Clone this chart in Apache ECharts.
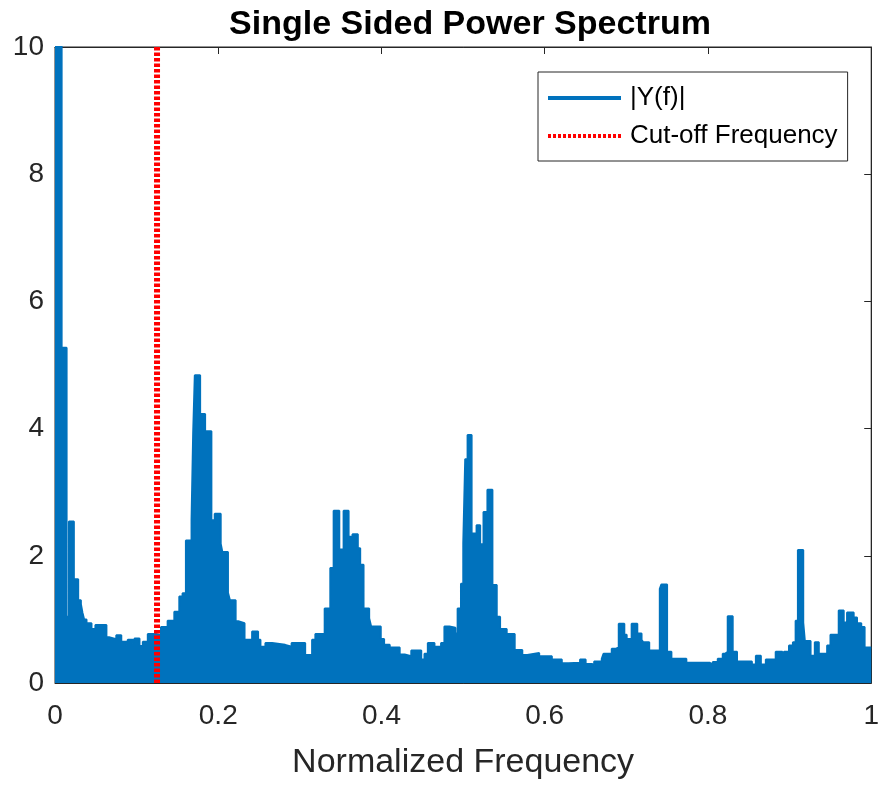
<!DOCTYPE html>
<html>
<head>
<meta charset="utf-8">
<script src="https://cdn.jsdelivr.net/npm/echarts@6/dist/echarts.min.js"></script>
<style>
html,body{margin:0;padding:0;background:#fff;overflow:hidden;}
#chart{position:fixed;left:0;top:0;right:0;bottom:0;}
</style>
</head>
<body>
<div id="chart"></div>
<script>
// Step-wise upper envelope of the single sided spectrum |Y(f)|
const freq = [
  0.0000, 0.0081, 0.0142, 0.0171, 0.0231, 0.0284, 0.0317, 0.0337, 0.0357, 0.0386,
  0.0447, 0.0495, 0.0630, 0.0662, 0.0751, 0.0812, 0.0873, 0.0893, 0.0954, 0.0975,
  0.1035, 0.1076, 0.1137, 0.1238, 0.1299, 0.1380, 0.1462, 0.1523, 0.1563, 0.1604,
  0.1673, 0.1693, 0.1713, 0.1778, 0.1839, 0.1916, 0.1957, 0.2030, 0.2050, 0.2119,
  0.2143, 0.2213, 0.2245, 0.2322, 0.2415, 0.2488, 0.2517, 0.2578, 0.2660, 0.2820,
  0.2899, 0.3065, 0.3150, 0.3190, 0.3304, 0.3373, 0.3414, 0.3483, 0.3536, 0.3597,
  0.3645, 0.3710, 0.3739, 0.3780, 0.3849, 0.3873, 0.3991, 0.4032, 0.4101, 0.4223,
  0.4284, 0.4365, 0.4487, 0.4527, 0.4568, 0.4649, 0.4730, 0.4771, 0.4832, 0.4905,
  0.4933, 0.4974, 0.5002, 0.5026, 0.5055, 0.5104, 0.5165, 0.5209, 0.5250, 0.5298,
  0.5359, 0.5412, 0.5453, 0.5534, 0.5632, 0.5725, 0.5786, 0.5932, 0.6087, 0.6209,
  0.6290, 0.6433, 0.6501, 0.6577, 0.6606, 0.6699, 0.6720, 0.6821, 0.6874, 0.6907,
  0.6975, 0.7004, 0.7065, 0.7134, 0.7186, 0.7207, 0.7280, 0.7410, 0.7430, 0.7499,
  0.7552, 0.7735, 0.8018, 0.8059, 0.8120, 0.8181, 0.8209, 0.8242, 0.8303, 0.8356,
  0.8538, 0.8587, 0.8648, 0.8709, 0.8830, 0.8911, 0.8932, 0.8993, 0.9041, 0.9074,
  0.9102, 0.9167, 0.9187, 0.9257, 0.9309, 0.9358, 0.9460, 0.9501, 0.9602, 0.9663,
  0.9704, 0.9785, 0.9826, 0.9878, 0.9919, 1.0000
];
const magnitude = [
  10.5, 5.27, 1.04, 2.54, 1.63, 1.30, 1.24, 1.10, 1.00, 0.94,
  0.85, 0.91, 0.72, 0.69, 0.75, 0.65, 0.59, 0.68, 0.62, 0.70,
  0.58, 0.65, 0.77, 0.75, 0.88, 0.98, 1.12, 1.36, 1.41, 2.24,
  2.56, 3.93, 4.84, 4.23, 3.96, 2.56, 2.66, 2.19, 2.06, 1.42,
  1.30, 0.97, 0.94, 0.68, 0.81, 0.68, 0.57, 0.63, 0.60, 0.57,
  0.63, 0.44, 0.68, 0.77, 1.17, 1.81, 2.71, 2.10, 2.71, 2.30,
  2.34, 2.12, 1.86, 1.17, 1.02, 0.89, 0.69, 0.60, 0.56, 0.45,
  0.42, 0.51, 0.37, 0.46, 0.63, 0.57, 0.63, 0.89, 0.87, 0.78,
  1.17, 1.56, 2.19, 3.52, 3.90, 2.35, 2.48, 2.18, 2.69, 3.04,
  1.54, 1.04, 0.85, 0.77, 0.52, 0.44, 0.47, 0.42, 0.37, 0.31,
  0.32, 0.37, 0.30, 0.28, 0.34, 0.38, 0.46, 0.54, 0.56, 0.93,
  0.76, 0.69, 0.93, 0.78, 0.68, 0.64, 0.51, 1.48, 1.55, 0.49,
  0.38, 0.32, 0.29, 0.33, 0.38, 0.46, 0.49, 1.05, 0.49, 0.34,
  0.29, 0.43, 0.29, 0.37, 0.49, 0.41, 0.49, 0.59, 0.64, 0.98,
  2.09, 0.95, 0.66, 0.43, 0.64, 0.46, 0.59, 0.76, 1.14, 0.95,
  1.11, 1.03, 0.94, 0.88, 0.56, 0.56
];
const cutoffFreq = 0.125;
const cutoffRange = [0, 10];
const xTicks = [0, 0.2, 0.4, 0.6, 0.8, 1];
const yTicks = [0, 2, 4, 6, 8, 10];

const FONT = "'Liberation Sans', Arial, Helvetica, sans-serif";
const AX = '#262626';
const BLUE = '#0072BD';
const RED = '#FF0000';

const spectrum = freq.map((f, i) => [f, magnitude[i]]);
const cutoff = cutoffRange.map(v => [cutoffFreq, v]);

const chart = echarts.init(document.getElementById('chart'), null, {renderer: 'canvas'});

function xAxisDef(pos, extra) {
  return Object.assign({
    type: 'value', show: true, gridIndex: 0, position: pos,
    min: xTicks[0], max: xTicks[xTicks.length - 1], interval: 0.2,
    axisLine: {show: true, onZero: false, lineStyle: {color: AX, width: 1}},
    axisTick: {show: true, inside: true, length: 7, lineStyle: {color: AX, width: 1}},
    splitLine: {show: false}
  }, extra);
}
function yAxisDef(pos, extra) {
  return Object.assign({
    type: 'value', show: true, gridIndex: 0, position: pos,
    min: yTicks[0], max: yTicks[yTicks.length - 1], interval: 2,
    axisLine: {show: true, onZero: false, lineStyle: {color: AX, width: 1}},
    axisTick: {show: true, inside: true, length: 7, lineStyle: {color: AX, width: 1}},
    splitLine: {show: false}
  }, extra);
}

chart.setOption({
  animation: false,
  backgroundColor: '#fff',
  title: {
    text: 'Single Sided Power Spectrum',
    left: 465, top: 3, textAlign: 'center',
    textStyle: {fontFamily: FONT, fontSize: 34, fontWeight: 'bold', color: '#000'}
  },
  grid: {left: 55, right: 6, top: 47, bottom: 99, containLabel: false,
         show: true, borderColor: AX, borderWidth: 1, backgroundColor: 'transparent'},
  legend: {
    orient: 'vertical', left: 538, top: 72,
    padding: [13, 10, 12, 8], itemGap: 12,
    itemWidth: 73, itemHeight: 4,
    borderColor: AX, borderWidth: 1, backgroundColor: '#fff',
    align: 'left',
    itemStyle: {opacity: 0},
    textStyle: {fontFamily: FONT, fontSize: 26, color: '#000', padding: [0, 0, 0, 4]},
    data: [
      {name: '|Y(f)|', lineStyle: {color: BLUE, width: 4, type: 'solid'}},
      {name: 'Cut-off Frequency', lineStyle: {color: RED, width: 4, type: [3, 2]}}
    ]
  },
  xAxis: [
    xAxisDef('bottom', {
      name: 'Normalized Frequency', nameLocation: 'middle', nameGap: 63,
      nameTextStyle: {fontFamily: FONT, fontSize: 34, color: AX},
      axisLabel: {fontFamily: FONT, fontSize: 28, color: AX, margin: 19}
    }),
    xAxisDef('top', {axisLabel: {show: false}})
  ],
  yAxis: [
    yAxisDef('left', {
      axisLabel: {fontFamily: FONT, fontSize: 28, color: AX, margin: 11}
    }),
    yAxisDef('right', {axisLabel: {show: false}})
  ],
  series: [
    {
      name: '|Y(f)|', type: 'line', xAxisIndex: 0, yAxisIndex: 0,
      data: spectrum, step: 'end', symbol: 'none', showSymbol: false, clip: true,
      lineStyle: {color: BLUE, width: 2},
      itemStyle: {color: BLUE},
      areaStyle: {color: BLUE, opacity: 1, origin: 'start'},
      z: 3
    },
    {
      name: 'Cut-off Frequency', type: 'line', xAxisIndex: 0, yAxisIndex: 0,
      data: cutoff, symbol: 'none', showSymbol: false, clip: true,
      lineStyle: {color: RED, width: 6, type: [3.5, 2]},
      itemStyle: {color: RED},
      z: 4
    },
    {
      name: 'frame', type: 'line', xAxisIndex: 1, yAxisIndex: 1,
      data: [], symbol: 'none', silent: true
    }
  ]
});
window.addEventListener('resize', () => chart.resize());
</script>
</body>
</html>
